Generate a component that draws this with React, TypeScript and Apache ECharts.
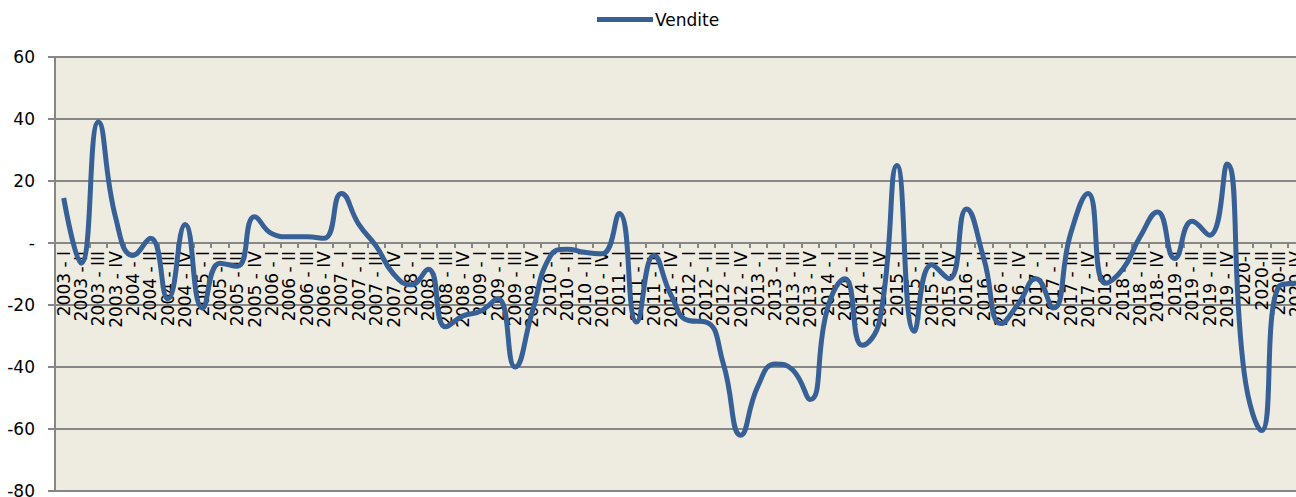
import React, { useEffect, useRef } from "react";
import * as echarts from "echarts";

const categories: string[] = [
  "2003 - I", "2003 - II", "2003 - III", "2003 - IV",
  "2004 - I", "2004 - II", "2004 - III", "2004 - IV",
  "2005 - I", "2005 - II", "2005 - III", "2005 - IV",
  "2006 - I", "2006 - II", "2006 - III", "2006 - IV",
  "2007 - I", "2007 - II", "2007 - III", "2007 - IV",
  "2008 - I", "2008 - II", "2008 - III", "2008 - IV",
  "2009 - I", "2009 - II", "2009 - III", "2009 - IV",
  "2010 - I", "2010 - II", "2010 - III", "2010 - IV",
  "2011 - I", "2011 - II", "2011 - III", "2011 - IV",
  "2012 - I", "2012 - II", "2012 - III", "2012 - IV",
  "2013 - I", "2013 - II", "2013 - III", "2013 - IV",
  "2014 - I", "2014 - II", "2014 - III", "2014 - IV",
  "2015 - I", "2015 - II", "2015 - III", "2015 - IV",
  "2016 - I", "2016 - II", "2016 - III", "2016 - IV",
  "2017 - I", "2017 - II", "2017 - III", "2017 - IV",
  "2018 - I", "2018 - II", "2018 - III", "2018- IV",
  "2019 - I", "2019 - II", "2019 - III", "2019 - IV",
  "2020-I", "2020-II", "2020-III", "2020-IV",
];

const vendite: number[] = [
  14.5, -6.5, 39, 8,
  -4, 1.5, -18, 6,
  -21, -6.5, -7.5, 8.5,
  3, 2, 2, 1.5,
  16, 6, -1, -10,
  -13.5, -8.5, -27, -23.5,
  -22, -18, -40, -22,
  -4.5, -2, -3, -3.5,
  9.5, -25.5, -4, -17,
  -25, -25.5, -39, -62,
  -46, -39, -41, -50.5,
  -21, -11.5, -33, -25,
  25, -28.5, -7, -11.5,
  11, -5, -26, -19.5,
  -11.5, -21, 3, 16,
  -13, -8.5, 2, 10,
  -5, 7, 2.5, 25.5,
  -42, -60.5, -14, -13,
];

const seriesName = "Vendite";
const yMin = -80;
const yMax = 60;
const yStep = 20;

const FONT = "DejaVu Sans";
const GRID_COLOR = "#878787";
const LINE_COLOR = "#376096";

const GRID_TOP = 57;
const GRID_BOTTOM = 6;
const CHART_H = 497;

export default function App() {
  const ref = useRef<HTMLDivElement>(null);

  useEffect(() => {
    if (!ref.current) return;
    const chart = echarts.init(ref.current, undefined, { renderer: "svg" });
    const plotH = CHART_H - GRID_TOP - GRID_BOTTOM;
    const zeroFromBottom = (plotH * (0 - yMin)) / (yMax - yMin);
    chart.setOption({
      animation: false,
      backgroundColor: "#ffffff",
      textStyle: { fontFamily: FONT },
      legend: {
        data: [seriesName],
        left: 592,
        top: 6,
        icon: "rect",
        itemWidth: 56,
        itemHeight: 5,
        itemGap: 10,
        itemStyle: { color: LINE_COLOR },
        lineStyle: { width: 0 },
        textStyle: { fontFamily: FONT, fontSize: 17, color: "#000000", padding: [0, 0, 0, -3] },
      },
      grid: {
        left: 55,
        top: GRID_TOP,
        bottom: GRID_BOTTOM,
        right: -9,
        show: true,
        backgroundColor: "#EEEBE1",
        borderWidth: 0,
        containLabel: false,
        outerBoundsMode: "none",
      },
      xAxis: {
        type: "category",
        data: categories,
        boundaryGap: true,
        position: "bottom",
        offset: -zeroFromBottom,
        axisLine: { show: true, onZero: false, lineStyle: { color: GRID_COLOR, width: 2 } },
        axisTick: { show: true, inside: false, length: 5, lineStyle: { color: GRID_COLOR, width: 2 } },
        axisLabel: {
          interval: 0,
          rotate: 90,
          margin: 8,
          fontFamily: FONT,
          fontSize: 17,
          color: "#000000",
        },
        splitLine: { show: false },
      },
      yAxis: {
        type: "value",
        min: yMin,
        max: yMax,
        interval: yStep,
        axisLine: { show: true, lineStyle: { color: GRID_COLOR, width: 2 } },
        axisTick: { show: true, inside: false, length: 7, lineStyle: { color: GRID_COLOR, width: 2 } },
        axisLabel: {
          margin: 20,
          fontFamily: FONT,
          fontSize: 17,
          color: "#000000",
          formatter: (v: number) => (v === 0 ? "-" : String(v)),
        },
        splitLine: { show: true, lineStyle: { color: GRID_COLOR, width: 2 } },
      },
      series: [
        {
          name: seriesName,
          type: "line",
          data: vendite,
          smooth: 0.5,
          symbol: "none",
          showSymbol: false,
          lineStyle: { color: LINE_COLOR, width: 5 },
          itemStyle: { color: LINE_COLOR },
        },
      ],
    });
    return () => chart.dispose();
  }, []);

  return (
    <div
      ref={ref}
      style={{ position: "fixed", left: 0, top: 0, width: 1296, height: 497 }}
    />
  );
}
